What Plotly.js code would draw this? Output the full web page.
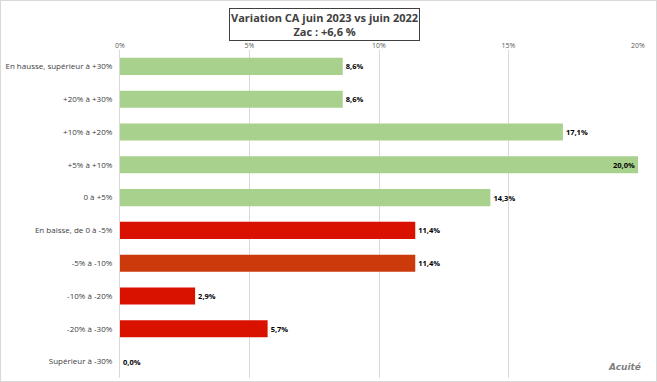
<!DOCTYPE html>
<html><head><meta charset="utf-8">
<script src="https://cdn.plot.ly/plotly-3.0.1.min.js"></script>
<style>html,body{margin:0;padding:0;background:#fff;}#wrap{width:655px;height:380px;border:1px solid #d9d9d9;}</style>
</head><body><div id="wrap"><div id="chart" style="width:655px;height:380px;"></div></div>
<script>
const categories = ["En hausse, supérieur à +30%","+20% à +30%","+10% à +20%","+5% à +10%","0 à +5%","En baisse, de 0 à -5%","-5% à -10%","-10% à -20%","-20% à -30%","Supérieur à -30%"];
const values = [8.6, 8.6, 17.1, 20.0, 14.3, 11.4, 11.4, 2.9, 5.7, 0.0];
const barColors = ["#A9D18E","#A9D18E","#A9D18E","#A9D18E","#A9D18E","#D91200","#CC3A0C","#D91200","#D91200","#D91200"];
const tickVals = [0,5,10,15,20];
const tickText = ["0%","5%","10%","15%","20%"];
const xMax = 20;

Plotly.newPlot("chart", [{
  type: "bar", orientation: "h",
  y: categories, x: values,
  marker: {color: barColors},
  width: 0.52,
  text: values.map(v => v.toFixed(1).replace(".", ",") + "%"),
  textposition: values.map(v => v >= xMax ? "inside" : "outside"),
  insidetextanchor: "end",
  cliponaxis: false,
  textfont: {family: "Open Sans, sans-serif", size: 7.5, color: "#000", weight: "bold"},
  insidetextfont: {family: "Open Sans, sans-serif", size: 7.5, color: "#000", weight: "bold"},
  outsidetextfont: {family: "Open Sans, sans-serif", size: 7.5, color: "#000", weight: "bold"},
  constraintext: "none",
  hoverinfo: "none"
}], {
  width: 655, height: 380,
  margin: {l: 119, r: 18, t: 49, b: 3},
  paper_bgcolor: "#fff", plot_bgcolor: "#fff",
  showlegend: false,
  xaxis: {side: "top", range: [0, xMax], tickvals: tickVals, ticktext: tickText,
    showgrid: true, gridcolor: "#d9d9d9", gridwidth: 1, zeroline: false, showline: false,
    tickfont: {family: "Open Sans, sans-serif", size: 7, color: "#595959"}, ticks: "", fixedrange: true},
  yaxis: {autorange: "reversed", type: "category", showline: true, linecolor: "#d9d9d9",
    ticks: "", ticklen: 0, ticklabelstandoff: 5,
    tickfont: {family: "Open Sans, sans-serif", size: 8, color: "#404040"},
    automargin: false, fixedrange: true},
  annotations: [
    {xref: "paper", yref: "paper", x: 0.395, y: 1, xanchor: "center", yanchor: "bottom", yshift: 9,
     text: "<b>Variation CA juin 2023 vs juin 2022</b><br><b>Zac : +6,6 %</b>", showarrow: false,
     font: {family: "Open Sans, sans-serif", size: 11, color: "#404040"},
     bordercolor: "#404040", borderwidth: 1, borderpad: 1, bgcolor: "#fff", align: "center"},
    {xref: "paper", yref: "paper", x: 1.01, y: 0, xanchor: "right", yanchor: "bottom", yshift: 4,
     text: "<b><i>Acuité</i></b>", showarrow: false,
     font: {family: "DejaVu Sans, sans-serif", size: 9, color: "#7f7f7f"}}
  ]
}, {staticPlot: true});
</script></body></html>
